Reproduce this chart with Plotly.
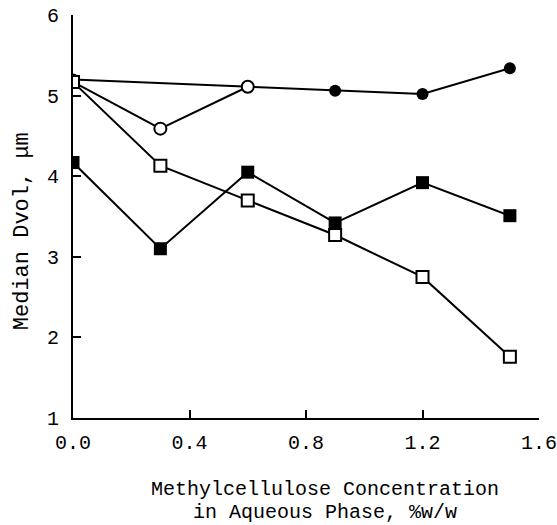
import plotly.graph_objects as go

# Data
conc = [0.0, 0.3, 0.6, 0.9, 1.2, 1.5]

filled_circle_x = [0.0, 0.6, 0.9, 1.2, 1.5]
filled_circle_y = [5.20, 5.11, 5.06, 5.02, 5.34]

open_circle_x = [0.0, 0.3, 0.6]
open_circle_y = [5.17, 4.59, 5.11]

open_square_x = conc
open_square_y = [5.17, 4.13, 3.70, 3.27, 2.75, 1.76]

filled_square_x = conc
filled_square_y = [4.17, 3.10, 4.05, 3.42, 3.92, 3.51]

x_ticks = [0.0, 0.4, 0.8, 1.2, 1.6]
x_tick_text = ["0.0", "0.4", "0.8", "1.2", "1.6"]
y_ticks = [1, 2, 3, 4, 5, 6]

FONT = "Liberation Mono, Courier New, monospace"
LINE = dict(color="black", width=2)

fig = go.Figure()
fig.add_trace(go.Scatter(x=filled_circle_x, y=filled_circle_y, mode="lines+markers",
                         line=LINE, marker=dict(symbol="circle", size=12, color="black")))
fig.add_trace(go.Scatter(x=open_circle_x, y=open_circle_y, mode="lines+markers",
                         line=LINE, marker=dict(symbol="circle", size=12, color="white",
                                                line=dict(color="black", width=2))))
fig.add_trace(go.Scatter(x=open_square_x, y=open_square_y, mode="lines+markers",
                         line=LINE, marker=dict(symbol="square", size=12, color="white",
                                                line=dict(color="black", width=2))))
fig.add_trace(go.Scatter(x=filled_square_x, y=filled_square_y, mode="lines+markers",
                         line=LINE, marker=dict(symbol="square", size=13, color="black")))

fig.update_layout(
    width=557, height=525,
    margin=dict(l=73, r=18, t=15, b=107),
    paper_bgcolor="white", plot_bgcolor="white",
    showlegend=False,
    font=dict(family=FONT, size=20, color="black"),
    xaxis=dict(range=[0, 1.6], tickvals=x_ticks, ticktext=x_tick_text,
               ticks="inside", ticklen=8, tickwidth=2, tickcolor="black",
               showline=True, linewidth=2, linecolor="black",
               showgrid=False, zeroline=False, ticklabelstandoff=5,
               ticklabeloverflow="allow", automargin=False,
               tickfont=dict(family=FONT, size=20)),
    yaxis=dict(range=[1, 6], tickvals=y_ticks,
               ticks="inside", ticklen=8, tickwidth=2, tickcolor="black",
               showline=True, linewidth=2, linecolor="black",
               showgrid=False, zeroline=False, ticklabelstandoff=8,
               automargin=False,
               tickfont=dict(family=FONT, size=20)),
    annotations=[
        dict(text="Methylcellulose Concentration", xref="paper", yref="paper",
             x=0.541, y=-0.177, xanchor="center", yanchor="middle", showarrow=False,
             font=dict(family=FONT, size=20)),
        dict(text="in Aqueous Phase, %w/w", xref="paper", yref="paper",
             x=0.541, y=-0.235, xanchor="center", yanchor="middle", showarrow=False,
             font=dict(family=FONT, size=20)),
        dict(text="Median Dvol, μm", xref="paper", yref="paper",
             x=-0.109, y=0.464, xanchor="center", yanchor="middle", showarrow=False,
             textangle=-90, font=dict(family=FONT, size=22)),
    ],
)

fig.write_html("out.html")
